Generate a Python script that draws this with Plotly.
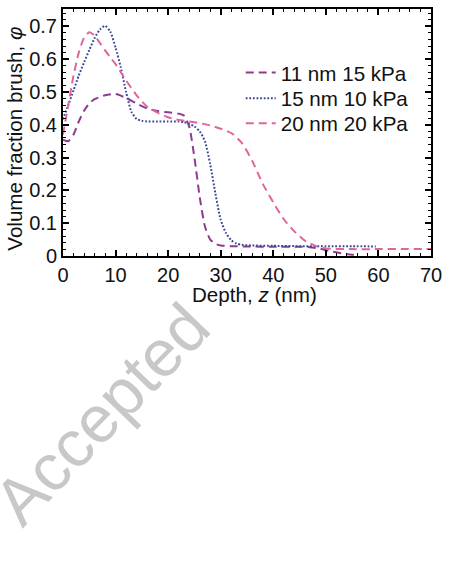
import plotly.graph_objects as go

# Series data
names = ["11 nm 15 kPa", "15 nm 10 kPa", "20 nm 20 kPa"]

x_11nm = [0, 1, 2, 3, 4, 5, 6, 8, 10, 12, 14, 16, 18, 20, 22, 23, 24, 25, 26, 27, 28, 29, 30, 32, 35, 40, 45, 47, 49, 51, 53, 55, 56]
y_11nm = [0.355, 0.35, 0.37, 0.41, 0.443, 0.465, 0.478, 0.49, 0.494, 0.482, 0.465, 0.45, 0.442, 0.438, 0.434, 0.428, 0.395, 0.3, 0.18, 0.09, 0.05, 0.037, 0.032, 0.03, 0.029, 0.028, 0.028, 0.027, 0.022, 0.014, 0.008, 0.004, 0.003]

x_15nm = [0, 1, 2, 3, 4, 5, 6, 7, 8, 9, 10, 11, 12, 13, 14, 15, 16, 18, 20, 22, 23, 24, 25, 26, 27, 28, 29, 30, 31, 32, 33, 34, 36, 40, 45, 50, 55, 59.5]
y_15nm = [0.417, 0.46, 0.505, 0.55, 0.59, 0.628, 0.664, 0.69, 0.702, 0.684, 0.635, 0.575, 0.5, 0.44, 0.418, 0.412, 0.41, 0.41, 0.41, 0.41, 0.408, 0.403, 0.395, 0.38, 0.35, 0.28, 0.19, 0.11, 0.07, 0.048, 0.038, 0.034, 0.032, 0.031, 0.03, 0.03, 0.03, 0.029]

x_20nm = [0, 1, 2, 3, 4, 5, 6, 7, 8, 9, 10, 11, 12, 14, 16, 18, 20, 22, 24, 26, 28, 30, 32, 34, 36, 38, 40, 42, 44, 46, 48, 50, 55, 60, 65, 70]
y_20nm = [0.37, 0.46, 0.55, 0.62, 0.665, 0.682, 0.672, 0.65, 0.627, 0.605, 0.585, 0.56, 0.535, 0.49, 0.455, 0.437, 0.423, 0.415, 0.41, 0.405, 0.398, 0.388, 0.375, 0.345, 0.29, 0.22, 0.163, 0.112, 0.075, 0.047, 0.031, 0.023, 0.021, 0.021, 0.021, 0.021]

x_ticks = [0, 10, 20, 30, 40, 50, 60, 70]
y_ticks = [0, 0.1, 0.2, 0.3, 0.4, 0.5, 0.6, 0.7]

x_title = "Depth, <i>z</i> (nm)"
y_title = "Volume fraction brush, <i>φ</i>"
watermark = "Accepted"

FONT = "Arial, Liberation Sans, sans-serif"

fig = go.Figure()
fig.add_trace(go.Scatter(x=x_11nm, y=y_11nm, name=names[0], mode="lines", legend="legend",
                         line=dict(color="#8E3B8F", width=2, dash="8px,5px", shape="spline", smoothing=0.6)))
fig.add_trace(go.Scatter(x=x_15nm, y=y_15nm, name=names[1], mode="lines", legend="legend2",
                         line=dict(color="#3B4795", width=2, dash="1.8px,1.8px", shape="spline", smoothing=0.6)))
fig.add_trace(go.Scatter(x=x_20nm, y=y_20nm, name=names[2], mode="lines", legend="legend3",
                         line=dict(color="#DE659E", width=2, dash="8px,5px", shape="spline", smoothing=0.6)))

axis_common = dict(
    showline=True, linecolor="black", linewidth=2, mirror="allticks",
    ticks="inside", ticklen=6, tickwidth=1.5, tickcolor="black",
    showgrid=False, zeroline=False,
    tickfont=dict(family=FONT, size=20, color="#111"),
)

fig.update_xaxes(range=[0, 70], tickvals=x_ticks, ticktext=[str(v) for v in x_ticks],
                 minor=dict(ticks="inside", dtick=2, ticklen=3, tickwidth=1.2, tickcolor="black"),
                 **axis_common)
fig.update_yaxes(range=[0, 0.753], tickvals=y_ticks, ticktext=["0"] + [f"{v:.1f}" for v in y_ticks[1:]],
                 minor=dict(ticks="inside", dtick=0.02, ticklen=3, tickwidth=1.2, tickcolor="black"),
                 **axis_common)

fig.add_annotation(text=x_title, xref="paper", yref="paper", x=0.52, y=-0.157,
                   xanchor="center", yanchor="middle", showarrow=False,
                   font=dict(family=FONT, size=20.6, color="#111"))
fig.add_annotation(text=y_title, xref="paper", yref="paper", x=-0.131, y=0.474,
                   xanchor="center", yanchor="middle", textangle=-90, showarrow=False,
                   font=dict(family=FONT, size=20.6, color="#111"))
fig.add_annotation(text=watermark, xref="paper", yref="paper", x=0.104, y=-0.64,
                   xanchor="center", yanchor="middle", textangle=-46, showarrow=False,
                   font=dict(family=FONT, size=66, color="#c8c8c8"))

leg_common = dict(x=0.483, xanchor="left", yanchor="top", bgcolor="rgba(0,0,0,0)",
                  font=dict(family=FONT, size=20.6, color="#111"))

fig.update_layout(
    width=449, height=584,
    margin=dict(l=63, r=13, t=7, b=328),
    paper_bgcolor="white", plot_bgcolor="white",
    showlegend=True,
    legend=dict(y=0.823, **leg_common),
    legend2=dict(y=0.719, **leg_common),
    legend3=dict(y=0.618, **leg_common),
)

fig.write_html("out.html")
